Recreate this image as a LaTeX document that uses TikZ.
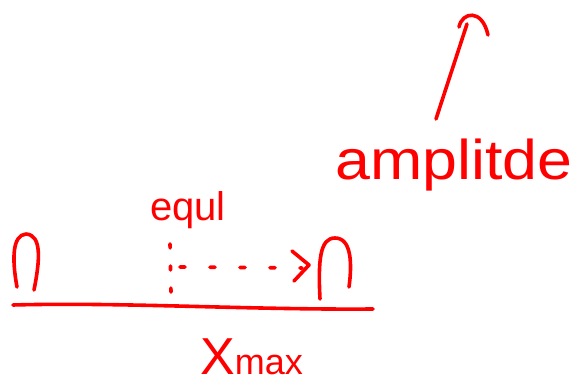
\documentclass[tikz,border=0pt]{standalone}
\usepackage{fontspec}
\setmainfont{Liberation Sans}
\definecolor{ink}{RGB}{255,0,0}
\begin{document}
\begin{tikzpicture}[x=1pt,y=-1pt,
  stroke/.style={draw=ink,line width=3.6pt,line cap=round,line join=round},
  dotstroke/.style={draw=ink,line width=3.6pt,line cap=round,dash pattern=on 4pt off 18pt},
  dashstroke/.style={draw=ink,line width=3.6pt,line cap=round,dash pattern=on 5pt off 25pt},
  lbl/.style={text=ink,inner sep=0pt}]
\useasboundingbox (0,0) rectangle (576,385);
% baseline
\coordinate (b0) at (13,305);
\coordinate (b1) at (373,309);
\draw[stroke] (b0) .. controls (120,302) and (250,310) .. (b1);
% left arch
\draw[stroke] (17,287) .. controls (12,260) and (12,235) .. (26,234)
  .. controls (42,235) and (40,260) .. (34,290);
% right arch
\draw[stroke] (320,299) .. controls (318,260) and (320,238) .. (335,238)
  .. controls (352,238) and (352,265) .. (349,287);
% dotted vertical
\coordinate (v0) at (170,244);
\coordinate (v1) at (171,292);
\draw[dotstroke] (v0) -- (v1);
% dashed arrow
\coordinate (a0) at (180,267);
\coordinate (a1) at (302,268);
\draw[dashstroke] (a0) -- (a1);
\draw[stroke] (292,251) -- (309,265) -- (294,281);
% labels
\node[lbl,font=\fontsize{40}{40}\selectfont,anchor=base west] (eq) at (150,221) {equl};
\node[lbl,font=\fontsize{56}{56}\selectfont,anchor=base west,xscale=1.12] (amp) at (335,180) {amplitde};
\node[lbl,anchor=base west] (xm) at (200,374) {{\fontsize{52}{52}\selectfont X}{\fontsize{36}{36}\selectfont max}};
% amplitude arrow
\coordinate (u0) at (436,119);
\coordinate (u1) at (467,24);
\draw[stroke] (u0) -- (u1);
\draw[stroke] (459,27) .. controls (462,12) and (482,8) .. (488,35);
\end{tikzpicture}
\end{document}
